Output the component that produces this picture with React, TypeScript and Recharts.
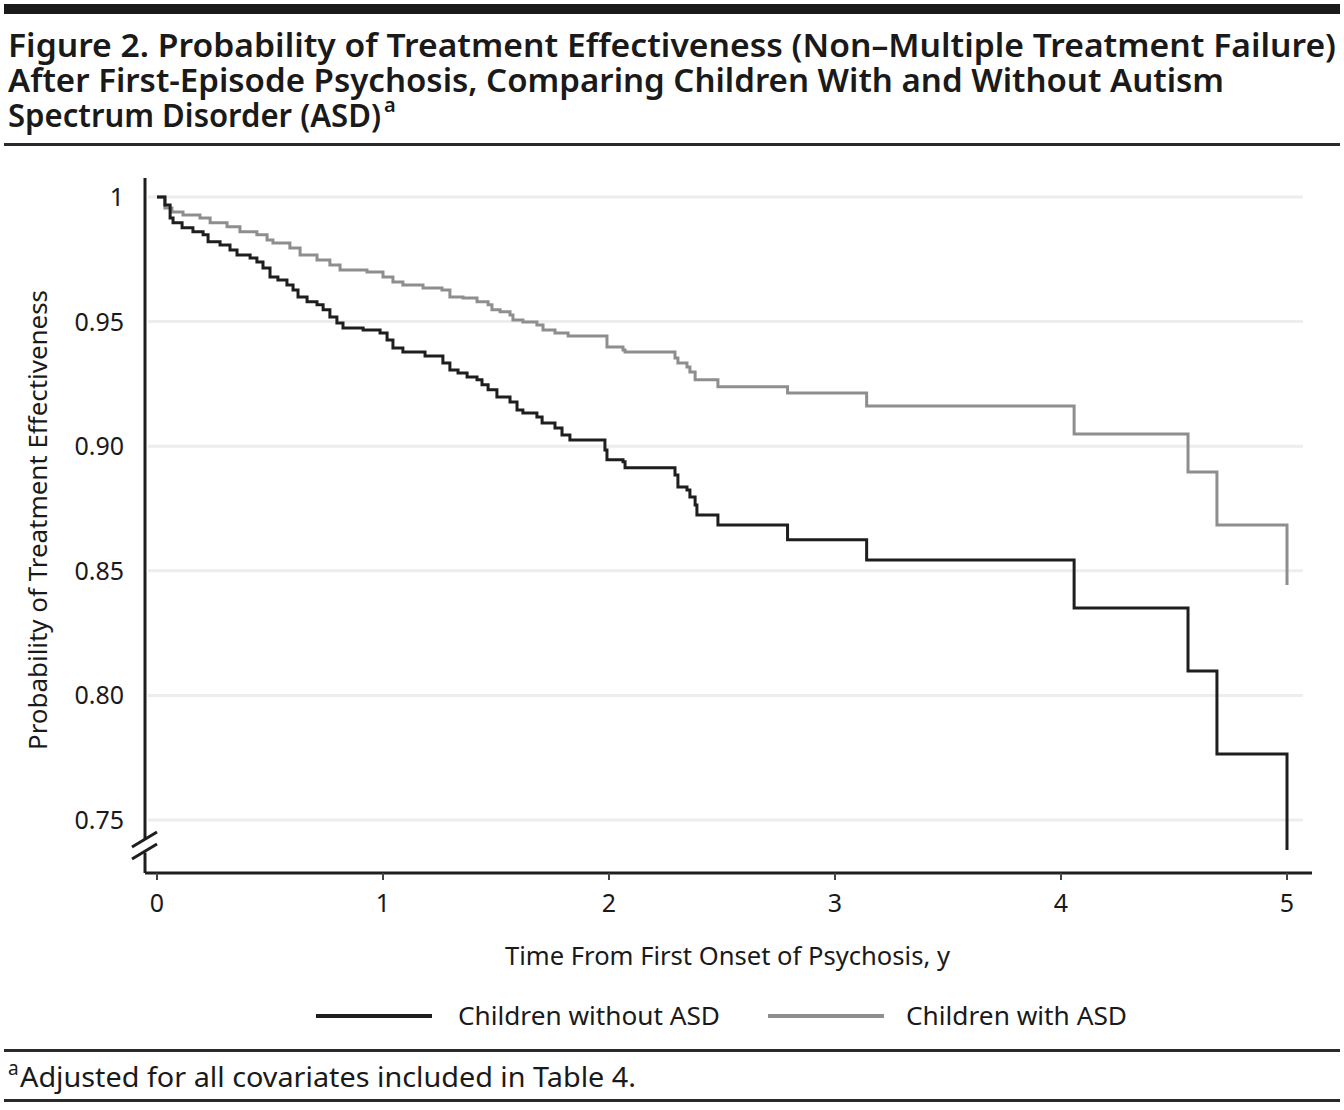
import React from "react";
import { LineChart, Line, XAxis, YAxis, ReferenceLine } from "recharts";

// ---- Data ----
const blackTime = [0, 0.035, 0.058, 0.071, 0.111, 0.159, 0.204, 0.226, 0.279, 0.323, 0.354, 0.412, 0.442, 0.469, 0.5, 0.535, 0.575, 0.602, 0.624, 0.664, 0.708, 0.735, 0.765, 0.796, 0.823, 0.912, 0.987, 1.018, 1.044, 1.088, 1.186, 1.265, 1.296, 1.332, 1.372, 1.416, 1.438, 1.465, 1.504, 1.562, 1.593, 1.619, 1.681, 1.704, 1.761, 1.792, 1.827, 1.982, 1.991, 2.062, 2.071, 2.292, 2.305, 2.345, 2.358, 2.381, 2.389, 2.482, 2.79, 3.14, 4.058, 4.562, 4.69, 5.0];
const blackVal = [1.0, 0.9968, 0.9916, 0.9896, 0.9876, 0.986, 0.9848, 0.982, 0.9807, 0.9787, 0.9767, 0.9755, 0.9739, 0.9715, 0.9679, 0.9667, 0.9647, 0.9627, 0.9599, 0.9579, 0.9567, 0.9547, 0.9518, 0.9494, 0.9474, 0.9466, 0.9454, 0.9426, 0.9394, 0.9378, 0.9362, 0.9334, 0.9306, 0.9294, 0.9278, 0.9266, 0.9246, 0.9226, 0.9197, 0.9177, 0.9145, 0.9133, 0.9117, 0.9093, 0.9073, 0.9045, 0.9025, 0.8985, 0.8945, 0.8937, 0.8913, 0.8884, 0.8836, 0.8824, 0.8796, 0.8764, 0.8724, 0.8684, 0.8624, 0.8543, 0.8351, 0.8098, 0.7765, 0.738];

const grayTime = [0, 0.035, 0.066, 0.115, 0.19, 0.235, 0.31, 0.367, 0.442, 0.487, 0.513, 0.588, 0.633, 0.708, 0.765, 0.81, 0.929, 1.0, 1.044, 1.088, 1.177, 1.261, 1.296, 1.354, 1.416, 1.465, 1.482, 1.518, 1.562, 1.575, 1.619, 1.681, 1.708, 1.761, 1.819, 1.991, 2.062, 2.071, 2.292, 2.305, 2.345, 2.358, 2.381, 2.482, 2.79, 3.14, 4.058, 4.562, 4.69, 5.0];
const grayVal = [1.0, 0.9956, 0.994, 0.9928, 0.9916, 0.9896, 0.988, 0.986, 0.9848, 0.9827, 0.9815, 0.9795, 0.9767, 0.9747, 0.9727, 0.9707, 0.9699, 0.9679, 0.9659, 0.9647, 0.9635, 0.9627, 0.9599, 0.9595, 0.9579, 0.9567, 0.9547, 0.9539, 0.9526, 0.9506, 0.9498, 0.9486, 0.9466, 0.9454, 0.9442, 0.9398, 0.9386, 0.9378, 0.9354, 0.9334, 0.9318, 0.9298, 0.9266, 0.9238, 0.9213, 0.9161, 0.9049, 0.8896, 0.8684, 0.8443];

const xTicks = [0, 1, 2, 3, 4, 5];
const yTicks = [0.75, 0.8, 0.85, 0.9, 0.95, 1];
const yTickLabels = ["0.75", "0.80", "0.85", "0.90", "0.95", "1"];
const seriesNames = ["Children without ASD", "Children with ASD"];

const titleLines = [
  "Figure 2. Probability of Treatment Effectiveness (Non\u2013Multiple Treatment Failure)",
  "After First-Episode Psychosis, Comparing Children With and Without Autism",
  "Spectrum Disorder (ASD)",
];
const xAxisTitle = "Time From First Onset of Psychosis, y";
const yAxisTitle = "Probability of Treatment Effectiveness";
const footnote = "Adjusted for all covariates included in Table 4.";

const blackData = blackTime.map((t, i) => ({ t, v: blackVal[i] }));
const grayData = grayTime.map((t, i) => ({ t, v: grayVal[i] }));

const FONT = "'Noto Sans', 'DejaVu Sans', sans-serif";
const BLACK = "#1e1e1e";
const GRAY = "#8e8e8e";

const XTick = (props: any) => {
  const { x, payload } = props;
  return (
    <text x={x} y={912} textAnchor="middle" fontFamily={FONT} fontSize={25} fill="#1a1a1a">
      {payload.value}
    </text>
  );
};

const YTick = (props: any) => {
  const { y, payload } = props;
  const idx = yTicks.findIndex((v) => Math.abs(v - payload.value) < 1e-9);
  return (
    <text x={124} y={y + 9} textAnchor="end" fontFamily={FONT} fontSize={25} fill="#1a1a1a">
      {idx >= 0 ? yTickLabels[idx] : ""}
    </text>
  );
};

export default function App() {
  return (
    <div style={{ position: "absolute", left: 0, top: 0, width: 1344, height: 1110, background: "#fff" }}>
      <div style={{ position: "absolute", left: 0, top: 0 }}>
        <LineChart
          width={1344}
          height={1110}
          margin={{ top: 178, right: 32, bottom: 207, left: 85 }}
        >
          <XAxis
            type="number"
            dataKey="t"
            domain={[-0.0531, 5.1106]}
            ticks={xTicks}
            allowDataOverflow
            height={30}
            axisLine={{ stroke: "#1e1e1e", strokeWidth: 3 }}
            tickLine={{ stroke: "#444", strokeWidth: 2 }}
            tickSize={7}
            tick={<XTick />}
            interval={0}
          />
          <YAxis
            type="number"
            dataKey="v"
            domain={[0.72873, 1.0076]}
            ticks={yTicks}
            allowDataOverflow
            width={60}
            axisLine={false}
            tickLine={false}
            tick={<YTick />}
            interval={0}
          />
          {yTicks.map((v) => (
            <ReferenceLine
              key={"g" + v}
              segment={[{ x: -0.04, y: v }, { x: 5.07, y: v }]}
              stroke="#ededed"
              strokeWidth={3}
              ifOverflow="visible"
            />
          ))}
          <ReferenceLine
            segment={[{ x: -0.0531, y: 1.0076 }, { x: -0.0531, y: 0.74197 }]}
            stroke="#1e1e1e"
            strokeWidth={3}
            ifOverflow="visible"
          />
          <ReferenceLine
            segment={[{ x: -0.0531, y: 0.73692 }, { x: -0.0531, y: 0.72873 }]}
            stroke="#1e1e1e"
            strokeWidth={3}
            ifOverflow="visible"
          />
          <ReferenceLine
            segment={[{ x: -0.1106, y: 0.73917 }, { x: 0, y: 0.74519 }]}
            stroke="#1e1e1e"
            strokeWidth={3}
            ifOverflow="visible"
          />
          <ReferenceLine
            segment={[{ x: -0.1106, y: 0.73435 }, { x: 0, y: 0.74037 }]}
            stroke="#1e1e1e"
            strokeWidth={3}
            ifOverflow="visible"
          />
          <Line
            data={grayData}
            dataKey="v"
            type="stepAfter"
            stroke={GRAY}
            strokeWidth={3}
            dot={false}
            activeDot={false}
            isAnimationActive={false}
            name={seriesNames[1]}
          />
          <Line
            data={blackData}
            dataKey="v"
            type="stepAfter"
            stroke={BLACK}
            strokeWidth={3}
            dot={false}
            activeDot={false}
            isAnimationActive={false}
            name={seriesNames[0]}
          />
        </LineChart>
      </div>
      <svg
        width={1344}
        height={1110}
        style={{ position: "absolute", left: 0, top: 0, pointerEvents: "none" }}
      >
        {/* top rule */}
        <rect x={4} y={4} width={1336} height={10} fill="#1a1a1a" />
        {/* title */}
        <text x={8} y={57} fontFamily={FONT} fontWeight={600} fontSize={32} fill="#1a1a1a" textLength={1328} lengthAdjust="spacingAndGlyphs">
          {titleLines[0]}
        </text>
        <text x={8} y={92} fontFamily={FONT} fontWeight={600} fontSize={32} fill="#1a1a1a" textLength={1216} lengthAdjust="spacingAndGlyphs">
          {titleLines[1]}
        </text>
        <text x={8} y={127} fontFamily={FONT} fontWeight={600} fontSize={32} fill="#1a1a1a" textLength={373} lengthAdjust="spacingAndGlyphs">
          {titleLines[2]}
        </text>
        <text x={384} y={112} fontFamily={FONT} fontWeight={600} fontSize={20} fill="#1a1a1a">
          a
        </text>
        <rect x={4} y={143} width={1336} height={3} fill="#2a2a2a" />
        {/* axis titles */}
        <text x={505} y={965} fontFamily={FONT} fontSize={26} fill="#1a1a1a" textLength={445} lengthAdjust="spacingAndGlyphs">
          {xAxisTitle}
        </text>
        <text
          x={0}
          y={0}
          transform="translate(47,520) rotate(-90)"
          textAnchor="middle"
          fontFamily={FONT}
          fontSize={26}
          fill="#1a1a1a"
          textLength={460}
          lengthAdjust="spacingAndGlyphs"
        >
          {yAxisTitle}
        </text>
        {/* legend */}
        <rect x={316} y={1014} width={116} height={4} fill={BLACK} />
        <text x={458} y={1025} fontFamily={FONT} fontSize={26} fill="#1a1a1a" textLength={262} lengthAdjust="spacingAndGlyphs">
          {seriesNames[0]}
        </text>
        <rect x={768} y={1014} width={116} height={4} fill={GRAY} />
        <text x={906} y={1025} fontFamily={FONT} fontSize={26} fill="#1a1a1a" textLength={221} lengthAdjust="spacingAndGlyphs">
          {seriesNames[1]}
        </text>
        {/* footnote */}
        <rect x={4} y={1049} width={1336} height={3} fill="#2a2a2a" />
        <text x={8} y={1075} fontFamily={FONT} fontSize={19} fill="#1a1a1a">
          a
        </text>
        <text x={20} y={1087} fontFamily={FONT} fontSize={28} fill="#1a1a1a" textLength={616} lengthAdjust="spacingAndGlyphs">
          {footnote}
        </text>
        <rect x={4} y={1099} width={1336} height={3} fill="#2a2a2a" />
      </svg>
    </div>
  );
}
